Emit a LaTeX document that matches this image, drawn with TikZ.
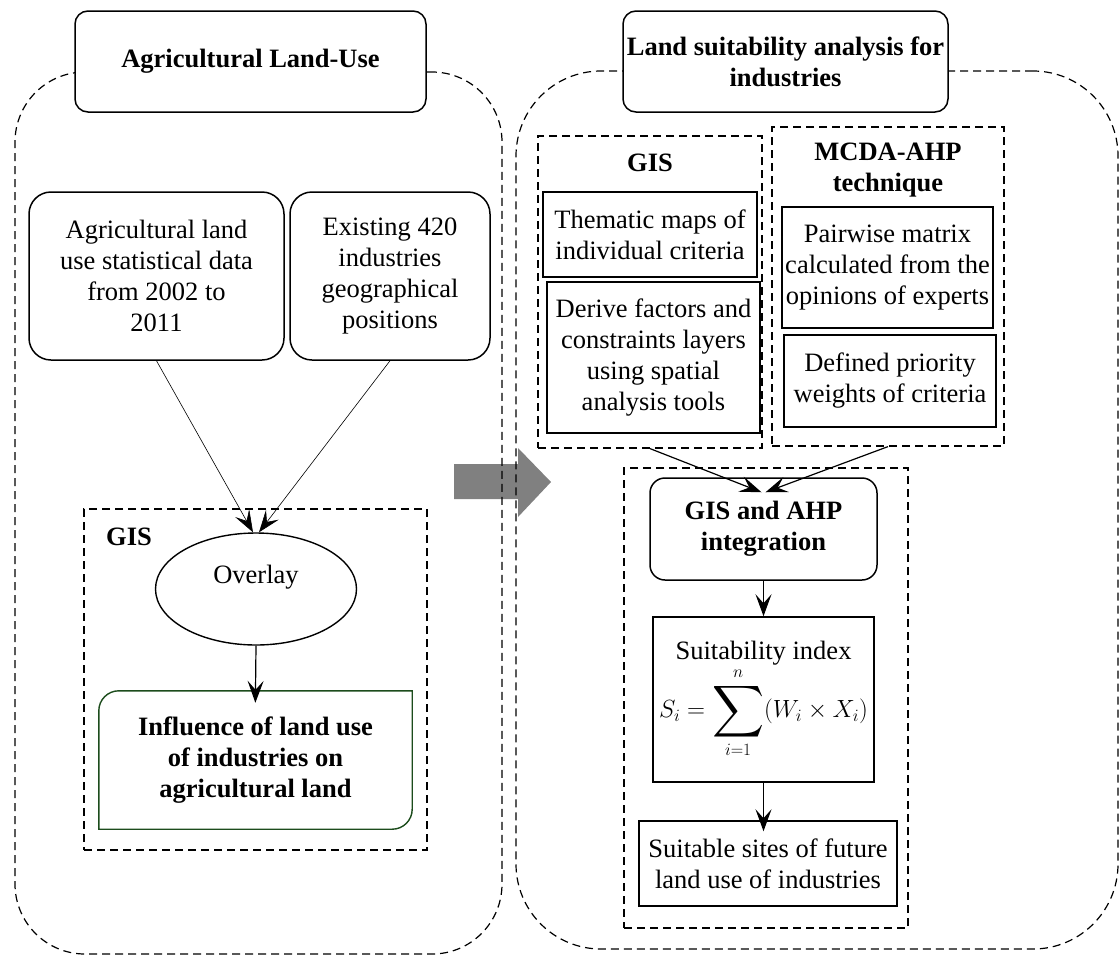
\documentclass[tikz,border=0pt]{standalone}
\usepackage{amsmath}
\usepackage{fontspec}
\setmainfont{Liberation Serif}
\usetikzlibrary{arrows.meta,shapes.geometric}
\definecolor{boxgreen}{RGB}{28,76,28}
\definecolor{arrowgray}{RGB}{128,128,128}
% large summation sign for the suitability index
\newcommand{\bigsum}{\mathop{\vcenter{\hbox{\scalebox{1.45}{$\displaystyle\sum$}}}}\limits}
\begin{document}
\begin{tikzpicture}[x=1pt,y=-1pt,
  font=\fontsize{26.5}{31}\selectfont,
  area/.style={draw, line width=1.2pt, dash pattern=on 8pt off 5pt, inner sep=0pt},
  title/.style={draw, fill=white, line width=1.5pt, rounded corners=13pt, align=center,
    inner sep=0pt, font=\fontsize{26.5}{31}\selectfont\bfseries},
  softbox/.style={draw, line width=1.5pt, rounded corners=22pt, align=center, inner sep=0pt},
  plainbox/.style={draw, line width=1.5pt, align=center, inner sep=0pt},
  head/.style={align=center, inner sep=0pt, font=\fontsize{26.5}{31}\selectfont\bfseries},
  link/.style={-{Stealth[length=22pt,width=16pt,inset=9pt]}, line width=1.2pt},
  thinlink/.style={link, line width=0.6pt}]
\useasboundingbox (0,0) rectangle (1119,956);

% transition arrow between the two stages
\fill[arrowgray] (454,464) -- (518,464) -- (518,448) -- (551,482) -- (518,517)
  -- (518,499) -- (454,499) -- cycle;

% stage outlines
\node[area, rounded corners=70pt, minimum width=487pt, minimum height=882pt] (leftarea) at (258.5,513) {};
\node[area, rounded corners=85pt, minimum width=602pt, minimum height=878pt] (rightarea) at (817,510) {};

% stage titles
\node[title, minimum width=351pt, minimum height=101pt] (agri) at (250.5,61.5) {Agricultural Land-Use};
\node[title, minimum width=325pt, minimum height=101pt] (lsa) at (785.5,61.5) {Land suitability analysis for\\industries};

% ---- left stage ----
\node[softbox, minimum width=255pt, minimum height=168pt] (stat) at (156.5,276)
  {Agricultural land\\use statistical data\\from 2002 to\\2011};
\node[softbox, minimum width=200pt, minimum height=168pt] (ind) at (390,276)
  {Existing 420\\industries\\geographical\\positions};

\node[area, minimum width=343pt, minimum height=341pt] (gisleft) at (255.5,679.5) {};
\node[head, anchor=west] (gislefttitle) at (106,537) {GIS};
\node[draw, ellipse, line width=1.4pt, minimum width=201pt, minimum height=112pt] (overlay) at (256,589) {};
\node (overlaytext) at (256,577) {Overlay};

\node[head, minimum width=313pt, minimum height=138pt] (influence) at (255.5,760)
  {Influence of land use\\of industries on\\agricultural land};
\draw[boxgreen, line width=1.4pt] (influence.south west) -- ([yshift=-20pt]influence.north west)
  arc[start angle=180, end angle=90, radius=20pt] -- (influence.north east)
  -- ([yshift=20pt]influence.south east) arc[start angle=0, end angle=-90, radius=20pt] -- cycle;

\draw[thinlink] (stat.south) -- ([xshift=-3pt]overlay.north);
\draw[thinlink] (ind.south) -- ([xshift=3pt]overlay.north);
\draw[link, shorten >=-12pt] (overlay.south) -- (influence.north);

% ---- right stage ----
\node[area, minimum width=224pt, minimum height=312pt] (gisright) at (650,292) {};
\node[head] (gisrighttitle) at (650,163) {GIS};
\node[plainbox, minimum width=214pt, minimum height=85pt] (thematic) at (650,234.5)
  {Thematic maps of\\individual criteria};
\node[plainbox, minimum width=213pt, minimum height=151pt] (derive) at (653.5,357.5)
  {Derive factors and\\constraints layers\\using spatial\\analysis tools};

\node[area, minimum width=232pt, minimum height=319pt] (mcda) at (888,286.5) {};
\node[head] (mcdatitle) at (888,170) {MCDA-AHP\\technique};
\node[plainbox, minimum width=211pt, minimum height=121pt] (pairwise) at (887.5,267.5)
  {Pairwise matrix\\calculated from the\\opinions of experts};
\node[plainbox, minimum width=212pt, minimum height=92pt] (weights) at (890,381)
  {Defined priority\\weights of criteria};

\node[area, minimum width=284pt, minimum height=460pt] (combine) at (766,698) {};
\node[head, draw, line width=1.5pt, rounded corners=15pt, minimum width=227pt, minimum height=102pt]
  (integration) at (763.5,529) {GIS and AHP\\integration};
\node[plainbox, minimum width=221pt, minimum height=165pt] (index) at (763.5,699.5)
  {Suitability index\\[2pt]$\displaystyle S_i=\bigsum_{i=1}^{n}(W_i\times X_i)$};
\node[plainbox, minimum width=258pt, minimum height=85pt] (sites) at (768,863.5)
  {Suitable sites of future\\land use of industries};

\draw[link] (gisright.south) -- ([xshift=-2pt,yshift=-15pt]integration.north);
\draw[link] (mcda.south) -- ([xshift=2pt,yshift=-15pt]integration.north);
\draw[link] (integration.south) -- (index.north);
\draw[link, shorten >=-11pt] (index.south) -- (index.south |- sites.north);
\end{tikzpicture}
\end{document}
